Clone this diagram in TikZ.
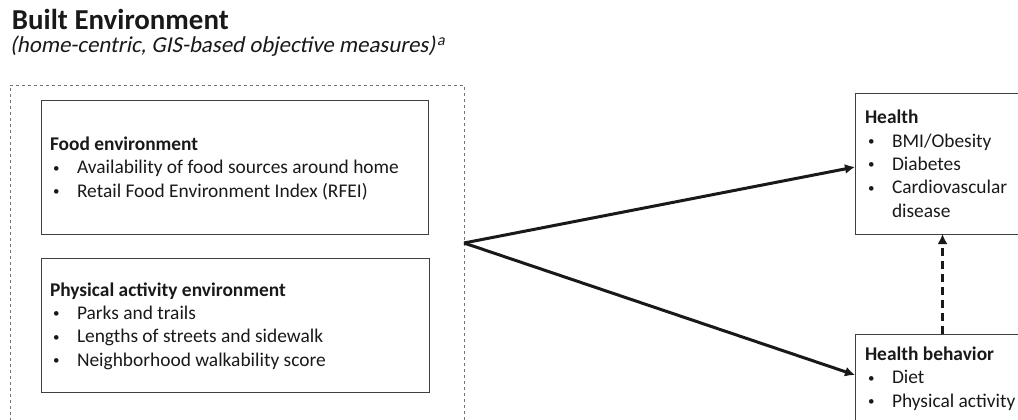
\documentclass[tikz,border=0pt]{standalone}
\usepackage{fontspec}
\setmainfont{Carlito}
\newfontfamily\slantfont[FakeSlant=0.2]{Carlito}
\usetikzlibrary{arrows.meta}
\newcommand{\itm}{\hspace*{3pt}\makebox[24pt][l]{\fontsize{13}{13}\selectfont\raisebox{1.5pt}{\textbullet}}}

\begin{document}
\begin{tikzpicture}[x=1pt, y=-1pt, every node/.style={inner sep=0pt, outer sep=0pt, text=black!90},
    box/.style={draw=black!75, line width=1pt},
    txt/.style={anchor=base west, align=left, font=\fontsize{19.4}{23.3}\selectfont},
    arr/.style={draw=black!90, line width=3pt, -{Latex[length=10pt,width=10pt]}}]
        \clip (0,0) rectangle (1018,420);
        \useasboundingbox (0,0) rectangle (1018,420);

        \node[txt, font=\bfseries\fontsize{28.9}{32}\selectfont] (title) at (12,30) {Built Environment};
        \node[txt, font=\slantfont\fontsize{22.8}{26}\selectfont] (sub) at (10,53) {(home-centric, GIS-based objective measures)\kern2pt\textsuperscript{a}};

        \node[draw=black!55, dashed, line width=0.8pt, minimum width=454pt, minimum height=355pt] (built) at (237,262.5) {};
        \coordinate (src) at (464,243);

        \node[box, minimum width=387pt, minimum height=133pt] (food) at (234.5,167.5) {};
        \node[box, minimum width=388pt, minimum height=134pt] (pa) at (235,325) {};
        \node[box, minimum width=175pt, minimum height=140pt] (health) at (942.5,164) {};
        \node[box, minimum width=175pt, minimum height=106pt] (behav) at (942.5,387) {};

        \node[txt] (foodtxt) at (50,197) {\textbf{Food environment}\\
            \itm Availability of food sources around home\\
            \itm Retail Food Environment Index (RFEI)};
        \node[txt] (patxt) at (50,366) {\textbf{Physical activity environment}\\
            \itm Parks and trails\\
            \itm Lengths of streets and sidewalk\\
            \itm Neighborhood walkability score};
        \node[txt] (healthtxt) at (865,217) {\textbf{Health}\\
            \itm BMI/Obesity\\
            \itm Diabetes\\
            \itm Cardiovascular\\
            \hspace*{27pt}disease};
        \node[txt] (behavtxt) at (865,407) {\textbf{Health behavior}\\
            \itm Diet\\
            \itm Physical activity};

        \draw[arr] (src) -- ([yshift=-3pt]health.west);
        \draw[arr] (src) -- ([yshift=-41pt]behav.north west);
        \draw[arr, dash pattern=on 8pt off 5pt] (behav.north) -- (health.south);
\end{tikzpicture}
\end{document}
